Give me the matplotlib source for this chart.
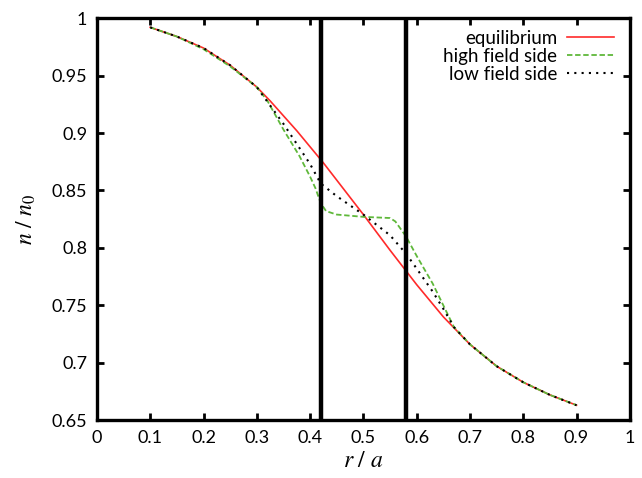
import numpy as np
import matplotlib.pyplot as plt

plt.rcParams['font.family'] = ['Lato', 'DejaVu Sans']
plt.rcParams['mathtext.fontset'] = 'stix'

# equilibrium profile
r_eq = [0.10, 0.15, 0.20, 0.25, 0.30, 0.325, 0.35, 0.375, 0.40, 0.425, 0.45, 0.50,
        0.55, 0.575, 0.60, 0.625, 0.65, 0.70, 0.75, 0.80, 0.85, 0.90]
n_eq = [0.992, 0.984, 0.974, 0.959, 0.940, 0.928, 0.915, 0.902, 0.888, 0.874, 0.859, 0.829,
        0.798, 0.783, 0.768, 0.754, 0.740, 0.716, 0.697, 0.683, 0.672, 0.663]

# high field side
r_hfs = [0.10, 0.15, 0.20, 0.25, 0.30, 0.32, 0.35, 0.38, 0.40, 0.41, 0.42,
         0.43, 0.45, 0.50, 0.55, 0.56, 0.58, 0.60, 0.63, 0.65, 0.67, 0.70,
         0.75, 0.80, 0.85, 0.90]
n_hfs = [0.992, 0.984, 0.973, 0.958, 0.940, 0.928, 0.903, 0.880, 0.862, 0.852, 0.839,
         0.832, 0.829, 0.827, 0.826, 0.823, 0.810, 0.793, 0.769, 0.750, 0.731, 0.716,
         0.697, 0.683, 0.672, 0.663]

# low field side
r_lfs = [0.10, 0.15, 0.20, 0.25, 0.30, 0.35, 0.40, 0.42, 0.45, 0.50, 0.55,
         0.58, 0.60, 0.63, 0.65, 0.67, 0.70, 0.75, 0.80, 0.85, 0.90]
n_lfs = [0.992, 0.984, 0.974, 0.959, 0.940, 0.908, 0.873, 0.856, 0.845, 0.829, 0.811,
         0.795, 0.782, 0.762, 0.747, 0.731, 0.716, 0.697, 0.683, 0.672, 0.663]

# boundaries of the island region
r_lines = [0.42, 0.58]

xticks = np.arange(0, 1.01, 0.1)
yticks = np.arange(0.65, 1.001, 0.05)

fig = plt.figure(figsize=(6.42, 4.78), dpi=100)
ax = fig.add_axes([0.151, 0.121, 0.830, 0.841])

ax.plot(r_eq, n_eq, color='#ff2a2a', lw=1.2, label='equilibrium')
ax.plot(r_hfs, n_hfs, color='#5fb83a', lw=1.3, dashes=(3, 1.5), label='high field side')
ax.plot(r_lfs, n_lfs, color='black', lw=1.5, dashes=(1, 2.5), label='low field side')

for xl in r_lines:
    ax.axvline(xl, color='black', lw=3.2)

ax.set_xlim(0, 1)
ax.set_ylim(0.65, 1)
ax.set_xticks(xticks)
ax.set_xticklabels(['0', '0.1', '0.2', '0.3', '0.4', '0.5', '0.6', '0.7', '0.8', '0.9', '1'])
ax.set_yticks(yticks)
ax.set_yticklabels(['0.65', '0.7', '0.75', '0.8', '0.85', '0.9', '0.95', '1'])
ax.tick_params(direction='in', length=5, width=2, labelsize=13, pad=7,
               top=True, right=True)
for s in ax.spines.values():
    s.set_linewidth(2.4)

ax.set_xlabel(r'$r\ /\ a$', fontsize=17, labelpad=3)
ax.set_ylabel(r'$n\ /\ n_0$', fontsize=17, labelpad=10)

ax.legend(loc='upper right', bbox_to_anchor=(0.985, 0.99), frameon=False,
          markerfirst=False, fontsize=13.5, handlelength=2.5, labelspacing=0.05,
          borderaxespad=0.0, handletextpad=0.55)

fig.savefig('out.png', dpi=100)
